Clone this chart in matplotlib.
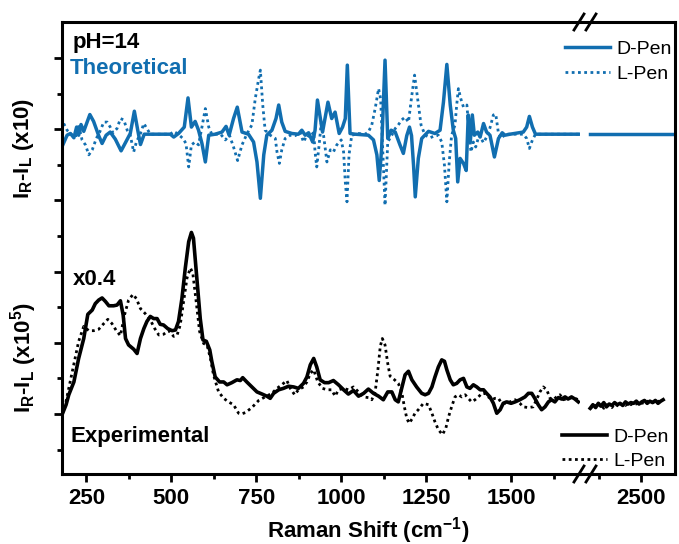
import matplotlib
matplotlib.use('Agg')
import matplotlib.pyplot as plt
from matplotlib.lines import Line2D

plt.rcParams['font.family'] = ['Liberation Sans', 'DejaVu Sans']
plt.rcParams['mathtext.fontset'] = 'custom'
plt.rcParams['mathtext.rm'] = 'Liberation Sans'
plt.rcParams['mathtext.bf'] = 'Liberation Sans:bold'
plt.rcParams['mathtext.it'] = 'Liberation Sans:italic'

# ---------------- data ----------------
theo_D_x = [180, 193, 203, 213, 221, 227, 234, 242, 260, 271, 286, 296, 308, 320, 335, 352, 365, 379, 391, 401,
            409, 420, 497, 507, 521, 538, 549, 559, 570, 580, 590, 600, 610, 629, 649, 661, 670, 683, 694, 708,
            727, 742, 752, 762, 772, 781, 796, 808, 816, 825, 835, 855, 874, 884, 894, 904, 916, 923, 930, 945,
            961, 972, 982, 994, 1004, 1012, 1018, 1026, 1041, 1080, 1095, 1105, 1112, 1119, 1129, 1137, 1147, 1159,
            1173, 1183, 1193, 1201, 1207, 1213, 1218, 1227, 1237, 1257, 1276, 1291, 1301, 1311, 1321, 1330, 1337,
            1343, 1350, 1360, 1368, 1374, 1380, 1386, 1392, 1402, 1409, 1419, 1428, 1438, 1451, 1463, 1474, 1482,
            1497, 1536, 1546, 1554, 1563, 1572, 1700]
theo_D_y = [-0.155, -0.014, 0.01, -0.05, 0.10, -0.014, 0.136, 0.04, 0.276, 0.18, -0.02, -0.13, -0.014, 0.03, -0.07,
            -0.234, -0.117, 0.01, 0.323, 0.056, -0.145, 0.0, 0.0, -0.04, 0.01, 0.10, 0.51, 0.10, 0.18, 0.056, -0.13,
            -0.39, -0.014, 0.0, 0.03, 0.11, -0.014, 0.22, 0.38, 0.03, 0.0, -0.11, -0.39, -0.90, -0.29, -0.014, 0.056,
            0.22, 0.41, 0.17, 0.04, 0.01, 0.0, 0.056, -0.014, 0.02, -0.11, 0.056, 0.48, 0.03, 0.45, 0.22, 0.31, 0.01,
            0.10, 0.22, 0.97, 0.01, 0.0, -0.014, -0.08, -0.29, -0.65, -0.20, 1.04, -0.06, 0.056, 0.03, -0.15, -0.27,
            -0.02, 0.10, -0.02, -0.44, -0.88, -0.34, -0.06, 0.04, 0.01, 0.056, 0.45, 0.98, 0.41, 0.056, -0.06, -0.67,
            -0.34, -0.41, -0.51, 0.27, -0.11, 0.27, -0.014, 0.03, -0.04, 0.15, 0.03, -0.014, -0.32, -0.06, 0.02,
            -0.014, 0.0, 0.03, 0.10, 0.25, 0.10, 0.0, 0.0]

theo_L_x = [183, 193, 208, 218, 227, 237, 247, 257, 267, 279, 289, 301, 311, 320, 328, 340, 350, 360, 370, 379,
            389, 397, 409, 419, 428, 438, 497, 507, 520, 534, 543, 551, 559, 570, 580, 590, 600, 610, 619, 645,
            659, 671, 683, 695, 708, 722, 737, 747, 757, 762, 769, 776, 791, 806, 811, 818, 825, 835, 850, 865,
            879, 889, 899, 909, 919, 923, 928, 935, 941, 948, 958, 968, 977, 987, 1000, 1007, 1012, 1017, 1023,
            1031, 1051, 1070, 1080, 1090, 1100, 1110, 1116, 1122, 1129, 1137, 1149, 1159, 1168, 1178, 1188, 1198,
            1208, 1216, 1225, 1235, 1247, 1262, 1276, 1286, 1296, 1304, 1311, 1318, 1325, 1335, 1340, 1345, 1352,
            1360, 1370, 1376, 1382, 1389, 1396, 1406, 1419, 1428, 1438, 1448, 1455, 1463, 1472, 1482, 1536, 1546,
            1554, 1563, 1572, 1700]
theo_L_y = [0.15, 0.056, -0.014, -0.04, 0.13, -0.08, -0.15, -0.29, -0.22, -0.06, 0.03, 0.17, 0.17, 0.10, 0.02,
            0.08, 0.22, 0.20, 0.056, -0.014, -0.25, -0.11, 0.01, 0.15, 0.08, 0.0, 0.0, 0.04, 0.0, -0.06, -0.13,
            -0.46, -0.15, -0.11, -0.15, 0.10, 0.36, 0.10, 0.0, 0.0, -0.08, -0.014, -0.18, -0.37, -0.15, 0.0, 0.13,
            0.50, 0.78, 0.90, 0.41, 0.056, -0.014, -0.06, -0.25, -0.41, -0.22, -0.06, -0.014, -0.02, 0.03, -0.11,
            -0.014, -0.04, 0.03, -0.25, -0.46, -0.15, 0.15, -0.014, -0.39, -0.22, -0.25, -0.15, -0.08, -0.25, -0.67,
            -0.95, -0.29, -0.014, 0.01, 0.0, 0.03, 0.13, 0.36, 0.64, 0.50, -0.20, -1.0, -0.11, -0.014, 0.08, 0.13,
            0.20, 0.24, 0.17, 0.55, 0.83, 0.50, 0.13, -0.014, -0.05, -0.02, -0.014, -0.11, -0.44, -0.95, -0.39,
            -0.014, 0.13, 0.41, 0.64, 0.50, 0.38, 0.41, 0.056, -0.25, -0.11, -0.18, -0.014, -0.12, -0.04, 0.09,
            0.27, 0.28, 0.01, -0.06, 0.0, 0.0, -0.06, -0.20, -0.08, 0.0, 0.0]

theo_right_x = [2350, 2600]
theo_right_y = [0.0, 0.0]

exp_D_x = [179, 190, 198, 213, 227, 242, 254, 267, 276, 286, 296, 306, 316, 330, 340, 350, 358, 365, 374, 389,
           399, 409, 419, 428, 438, 448, 458, 467, 477, 489, 502, 512, 521, 531, 541, 551, 559, 565, 575, 585,
           593, 603, 613, 619, 629, 642, 654, 664, 678, 693, 703, 710, 722, 737, 752, 767, 781, 791, 801, 816,
           830, 845, 860, 874, 889, 899, 909, 919, 928, 938, 951, 963, 977, 992, 1007, 1021, 1036, 1051, 1066,
           1080, 1095, 1110, 1124, 1137, 1149, 1159, 1168, 1178, 1188, 1198, 1208, 1222, 1237, 1247, 1257, 1267,
           1276, 1286, 1296, 1304, 1311, 1321, 1330, 1340, 1350, 1360, 1370, 1379, 1389, 1399, 1409, 1419, 1428,
           1438, 1448, 1458, 1468, 1477, 1487, 1500, 1512, 1526, 1541, 1551, 1561, 1570, 1580, 1590, 1600, 1610,
           1619, 1629, 1639, 1649, 1659, 1668, 1678, 1688, 1698]
exp_D_y = [0.0, 0.13, 0.27, 0.45, 0.78, 1.06, 1.40, 1.46, 1.55, 1.60, 1.63, 1.58, 1.52, 1.52, 1.53, 1.59, 1.39,
           1.06, 0.97, 0.91, 0.85, 1.06, 1.20, 1.30, 1.37, 1.34, 1.34, 1.26, 1.25, 1.20, 1.17, 1.18, 1.30, 1.62,
           2.05, 2.42, 2.55, 2.47, 1.91, 1.34, 1.04, 1.02, 0.90, 0.74, 0.52, 0.45, 0.45, 0.41, 0.44, 0.48, 0.47,
           0.51, 0.45, 0.38, 0.31, 0.28, 0.25, 0.22, 0.29, 0.34, 0.36, 0.39, 0.38, 0.36, 0.43, 0.52, 0.69, 0.78,
           0.66, 0.48, 0.44, 0.44, 0.47, 0.41, 0.34, 0.28, 0.33, 0.25, 0.29, 0.35, 0.29, 0.25, 0.20, 0.31, 0.31,
           0.20, 0.17, 0.36, 0.55, 0.60, 0.48, 0.38, 0.29, 0.27, 0.29, 0.38, 0.52, 0.66, 0.76, 0.74, 0.62, 0.48,
           0.41, 0.43, 0.48, 0.50, 0.38, 0.36, 0.41, 0.38, 0.34, 0.34, 0.29, 0.24, 0.15, 0.01, 0.06, 0.15, 0.17,
           0.15, 0.17, 0.20, 0.24, 0.29, 0.29, 0.22, 0.13, 0.06, 0.10, 0.17, 0.20, 0.17, 0.23, 0.21, 0.24, 0.21,
           0.24, 0.21, 0.17]

exp_L_x = [179, 190, 198, 213, 227, 242, 257, 271, 286, 301, 313, 325, 338, 350, 362, 374, 387, 397, 409, 423,
           438, 451, 463, 477, 492, 507, 517, 526, 536, 546, 556, 563, 573, 583, 595, 605, 615, 624, 639, 654,
           668, 683, 698, 706, 718, 737, 757, 776, 796, 811, 825, 840, 850, 863, 874, 889, 899, 909, 919, 931,
           945, 958, 972, 982, 992, 1007, 1021, 1036, 1051, 1066, 1080, 1090, 1100, 1108, 1115, 1121, 1129, 1137,
           1144, 1157, 1168, 1178, 1186, 1193, 1200, 1210, 1217, 1227, 1242, 1257, 1267, 1276, 1286, 1298, 1308,
           1316, 1325, 1335, 1345, 1355, 1365, 1374, 1384, 1394, 1404, 1414, 1423, 1433, 1443, 1453, 1463, 1472,
           1482, 1497, 1512, 1526, 1536, 1551, 1565, 1575, 1585, 1595, 1605, 1615, 1624, 1634, 1644, 1654, 1668,
           1683, 1698]
exp_L_y = [0.0, 0.18, 0.36, 0.69, 1.02, 1.23, 1.17, 1.17, 1.19, 1.27, 1.33, 1.27, 1.17, 1.10, 1.39, 1.60, 1.68,
           1.62, 1.48, 1.41, 1.32, 1.20, 1.11, 1.12, 1.17, 1.09, 1.11, 1.25, 1.58, 1.91, 2.05, 1.98, 1.58, 1.16,
           0.99, 0.97, 0.78, 0.55, 0.31, 0.22, 0.17, 0.13, 0.01, 0.0, 0.02, 0.09, 0.19, 0.24, 0.29, 0.36, 0.41,
           0.47, 0.36, 0.27, 0.34, 0.38, 0.45, 0.57, 0.62, 0.45, 0.36, 0.34, 0.34, 0.25, 0.34, 0.36, 0.34, 0.38,
           0.31, 0.24, 0.23, 0.20, 0.31, 0.62, 0.95, 1.06, 0.97, 0.71, 0.53, 0.48, 0.43, 0.31, 0.10, -0.06, -0.13,
           -0.06, 0.01, 0.06, 0.15, 0.13, 0.01, -0.11, -0.22, -0.29, -0.20, -0.04, 0.10, 0.24, 0.27, 0.24, 0.27,
           0.22, 0.17, 0.20, 0.24, 0.29, 0.29, 0.24, 0.20, 0.22, 0.22, 0.15, 0.15, 0.17, 0.20, 0.15, 0.10, 0.09,
           0.10, 0.20, 0.31, 0.38, 0.34, 0.22, 0.20, 0.24, 0.27, 0.20, 0.22, 0.23, 0.20]

exp_right_x = [2350, 2358, 2366, 2374, 2382, 2390, 2398, 2406, 2414, 2422, 2430, 2438, 2446, 2454, 2462, 2470,
               2478, 2486, 2494, 2502, 2510, 2518, 2526, 2534, 2542, 2550, 2558, 2565]
exp_D_right_y = [0.08, 0.13, 0.09, 0.15, 0.11, 0.16, 0.10, 0.14, 0.12, 0.16, 0.13, 0.15, 0.12, 0.17, 0.14, 0.16,
                 0.15, 0.18, 0.14, 0.17, 0.19, 0.15, 0.18, 0.16, 0.19, 0.15, 0.18, 0.20]
exp_L_right_y = [0.10, 0.07, 0.12, 0.09, 0.14, 0.08, 0.13, 0.11, 0.09, 0.14, 0.12, 0.10, 0.15, 0.12, 0.15, 0.13,
                 0.16, 0.14, 0.17, 0.15, 0.16, 0.18, 0.15, 0.17, 0.16, 0.18, 0.17, 0.19]

x_major_left = [250, 500, 750, 1000, 1250, 1500]
x_minor_left = [375, 625, 875, 1125, 1375, 1625]
x_major_right = [2500]
x_minor_right = [2375]
series_labels = ['D-Pen', 'L-Pen']

# ---------------- styling ----------------
BLUE = '#116eb0'
THEO_OFFSET = 3.93
DOT = (0, (1, 1.25))
W, H = 679, 544

fig = plt.figure(figsize=(W / 100, H / 100), dpi=100)


def fx(px):
    return px / W


def fy(py):
    return 1 - py / H


axL = fig.add_axes([fx(62), fy(474), fx(580) - fx(62), fy(22) - fy(474)])
axR = fig.add_axes([fx(580), fy(474), fx(675) - fx(580), fy(22) - fy(474)])

for ax in (axL, axR):
    ax.set_ylim(-0.843, 5.506)
    for s in ax.spines.values():
        s.set_linewidth(2.2)
    ax.tick_params(which='major', direction='out', length=6, width=2, labelsize=16, pad=4)
    ax.tick_params(which='minor', direction='out', length=3.5, width=2)

axL.set_xlim(178, 1703)
axR.set_xlim(2320, 2600)
axL.spines['right'].set_visible(False)
axR.spines['left'].set_visible(False)
axR.tick_params(axis='y', which='both', left=False, labelleft=False)
axL.set_yticks([0, 1, 2, 3, 4, 5])
axL.set_yticks([-0.5, 0.5, 1.5, 2.5, 3.5, 4.5], minor=True)
axL.tick_params(axis='y', labelleft=False)
axL.set_xticks(x_major_left)
axL.set_xticks(x_minor_left, minor=True)
axR.set_xticks(x_major_right)
axR.set_xticks(x_minor_right, minor=True)
for ax in (axL, axR):
    for lab in ax.get_xticklabels():
        lab.set_fontweight('bold')
        lab.set_fontsize(16)

# theoretical
axL.plot(theo_L_x, [v + THEO_OFFSET for v in theo_L_y], color=BLUE, lw=2.0, ls=DOT)
axL.plot(theo_D_x, [v + THEO_OFFSET for v in theo_D_y], color=BLUE, lw=2.5, solid_joinstyle='round')
axR.plot(theo_right_x, [v + THEO_OFFSET for v in theo_right_y], color=BLUE, lw=2.0, ls=DOT)
axR.plot(theo_right_x, [v + THEO_OFFSET for v in theo_right_y], color=BLUE, lw=2.5)

# experimental
axL.plot(exp_L_x, exp_L_y, color='black', lw=2.0, ls=DOT)
axL.plot(exp_D_x, exp_D_y, color='black', lw=2.6, solid_joinstyle='round')
axR.plot(exp_right_x, exp_L_right_y, color='black', lw=2.0, ls=DOT)
axR.plot(exp_right_x, exp_D_right_y, color='black', lw=2.6)

# annotations
axL.text((73 - 62) / 518, (474 - 48) / 452, 'pH=14', transform=axL.transAxes, fontsize=16,
         fontweight='bold', color='black', va='baseline', ha='left')
axL.text((70 - 62) / 518, (474 - 74) / 452, 'Theoretical', transform=axL.transAxes, fontsize=16,
         fontweight='bold', color=BLUE, va='baseline', ha='left')
axL.text((73 - 62) / 518, (474 - 285) / 452, 'x0.4', transform=axL.transAxes, fontsize=16,
         fontweight='bold', color='black', va='baseline', ha='left')
axL.text((70 - 62) / 518, (474 - 442) / 452, 'Experimental', transform=axL.transAxes, fontsize=16,
         fontweight='bold', color='black', va='baseline', ha='left')

fig.text(fx(24), fy(148), r'I$_\mathbf{R}$-I$_\mathbf{L}$ (x10)', rotation=90, ha='center', va='center',
         fontsize=16, fontweight='bold')
fig.text(fx(24), fy(358), r'I$_\mathbf{R}$-I$_\mathbf{L}$ (x10$^\mathbf{5}$)', rotation=90, ha='center',
         va='center', fontsize=16, fontweight='bold')
fig.text(fx(368), fy(537), r'Raman Shift (cm$^\mathbf{-1}$)', ha='center', va='baseline', fontsize=16,
         fontweight='bold')

# legends
hT = [Line2D([], [], color=BLUE, lw=2.5), Line2D([], [], color=BLUE, lw=2.0, ls=DOT)]
fig.legend(hT, series_labels, loc='upper left', bbox_to_anchor=(fx(565), fy(40)), frameon=False,
           fontsize=14, handlelength=2.3, handletextpad=0.35, labelspacing=0.38, borderpad=0,
           borderaxespad=0)
hB = [Line2D([], [], color='black', lw=2.6), Line2D([], [], color='black', lw=2.0, ls=DOT)]
fig.legend(hB, series_labels, loc='upper left', bbox_to_anchor=(fx(562), fy(428)), frameon=False,
           fontsize=14, handlelength=2.3, handletextpad=0.35, labelspacing=0.33, borderpad=0,
           borderaxespad=0)

# break marks
for yb in (22, 474):
    for xb in (579, 591):
        fig.add_artist(Line2D([fx(xb - 5), fx(xb + 5)], [fy(yb + 8), fy(yb - 8)], color='black', lw=2.0,
                              transform=fig.transFigure, clip_on=False))

fig.savefig('out.png', dpi=100)
